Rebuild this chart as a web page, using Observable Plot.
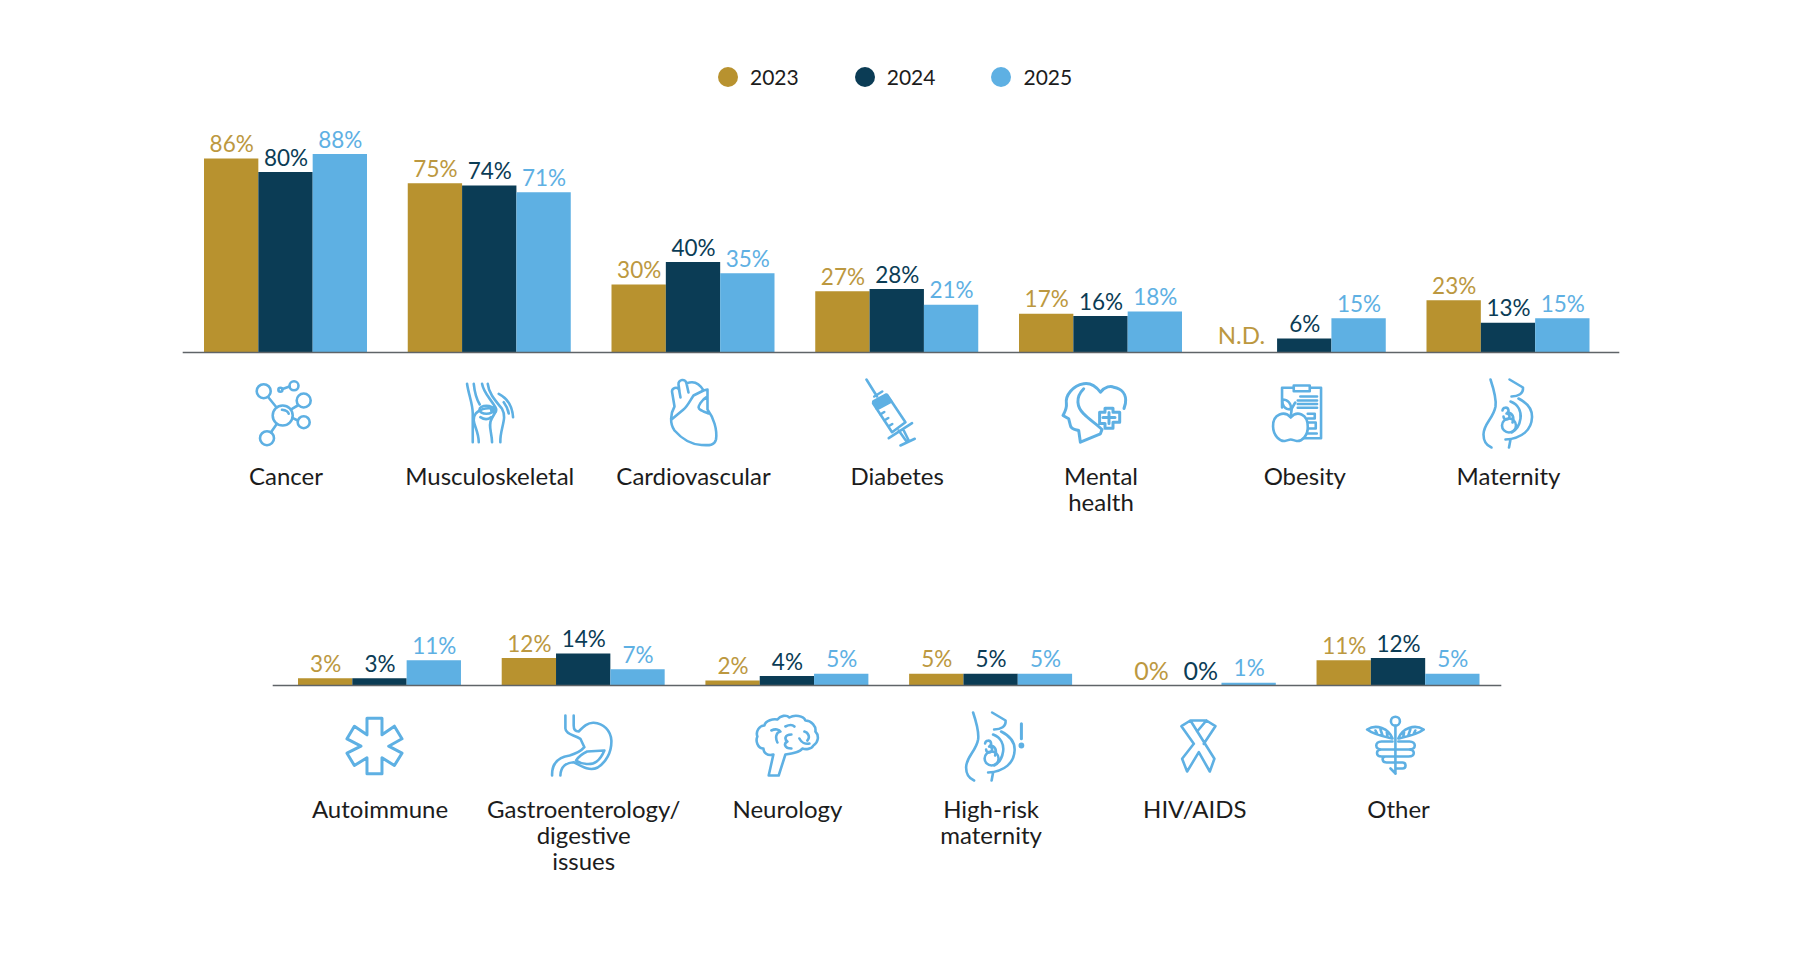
<!DOCTYPE html>
<html>
<head>
<meta charset="utf-8">
<script src="https://cdn.jsdelivr.net/npm/d3@7"></script>
<script src="https://cdn.jsdelivr.net/npm/@observablehq/plot@0.6"></script>
<style>
  html,body{margin:0;padding:0;background:#fff;overflow:hidden;}
  #legend{height:100px;box-sizing:border-box;padding:66px 0 0 718px;display:flex;align-items:flex-start;font:21px/21px Lato,sans-serif;color:#1c1c1c;}
  #legend span.i{display:flex;align-items:center;margin-right:56px;}
  #legend i{display:block;width:20px;height:20px;border-radius:50%;margin-right:12px;}
  svg{display:block;}
</style>
</head>
<body>
<div id="legend"></div>
<div id="chart"></div>
<script>
const years = ["2023","2024","2025"];
const colors = ["#B8922F","#0B3C55","#5EB0E3"];
const textColors = ["#BC9840","#0B3C55","#5EB0E3"];

const topCategories = ["Cancer","Musculoskeletal","Cardiovascular","Diabetes","Mental\nhealth","Obesity","Maternity"];
const top2023 = [86,75,30,27,17,null,23];
const top2024 = [80,74,40,28,16,6,13];
const top2025 = [88,71,35,21,18,15,15];

const bottomCategories = ["Autoimmune","Gastroenterology/\ndigestive\nissues","Neurology","High-risk\nmaternity","HIV/AIDS","Other"];
const bottom2023 = [3,12,2,5,0,11];
const bottom2024 = [3,14,4,5,0,12];
const bottom2025 = [11,7,5,5,1,5];

const pregnant = `<path d="M32,16 C36,28 38,36 37,43 C35,55 25,60 25,71 C25,77 28,82 33,84"/><path d="M51,16 L64.5,24 C65,30 60,33 53,33"/><path d="M60,35 C68,39 74,45 73.5,54 C73,66 64,75 47,76 M52,76 L50.5,84"/><path d="M52,38 C60,41 63,48 62,55 C61,62 57,67 53,69"/><circle cx="50.5" cy="62" r="7"/><path d="M44,47 a3,3 0 1 1 4,3 a3,3 0 1 1 -3,3 M49,49 C54,49 56,54 54,59"/>`;

const iconCancer = `<circle cx="46.7" cy="52" r="10"/><circle cx="27.7" cy="27.7" r="7"/><circle cx="58" cy="22.3" r="4.5"/><circle cx="44.4" cy="26.3" r="2"/><path d="M46.5,25.5 L53.5,23"/><circle cx="67.7" cy="37" r="7"/><circle cx="67.7" cy="58.7" r="6"/><circle cx="31" cy="74.7" r="7"/><path d="M32.7,34.3 L40.4,43.7 M56,45.3 L61.7,42 M57,54.7 L61.7,57 M40.4,61 L35,68.7 M46,46.3 Q52,47 52.7,50.3"/>`;
const iconJoint = `<path d="M27.3,20.3 C29,32 33,40 33,50 L33,78.7 M34,20.3 C35,30 37,36 40,41 M42.3,20.3 C44,30 51,35.3 55.6,43.7 M48,20.3 C49,30 55.6,37 62.3,45.3 C68,55 60,65 60.6,78.7 M39,78.7 C39,65 30,58 36,50 C42,44 50,44 55,46 M52.3,78.7 C52,68 48,62 52,55 L56,48"/><ellipse cx="46.7" cy="46.3" rx="7" ry="4"/><circle cx="54" cy="46.3" r="2.5"/><path d="M40.6,53.7 Q46.6,57.7 51.3,53.7 M59,30.3 Q72.3,37 73.3,53.7 M64,38.7 Q68,44 69,50"/>`;
const iconHeart = `<path d="M31,43 C27,50 26,60 31,67 C38,75 48,81 58,81.5 C66,82 71,82 72.5,76 C74,66 70,54 64,46 L64,26 L60,27 C56,20 50,17 43,20 M31,43 L28.5,28 a3.8,3.8 0 0 1 7,-2 L37,34 M36,28 L35,21 a4,4 0 0 1 8,-1 L45,29 M28,56 L40,46 C44,43 46,38 50,32 L60,27 M64,33 C57,37 55,43 55.2,44 C55,46 58,47 65,50"/>`;
const iconSyringe = `<path d="M19.2,16 L29.8,33 M27,33 L35,28 M25.8,39.7 L39.8,31.3 L58.2,58.7 L44.8,68.7 Z M41.5,74.7 L64.8,59.7 M51.5,67 L59.8,78.7 M56.5,67 L61.5,77 M53.2,82 L67.5,75.3 M29,45 L33,42.5 M33,51 L37,48.5 M37,57 L41,54.5 M41,63 L45,60.5"/><path d="M26,38 L39,31 L44,38 L31,45 Z" fill="#5EB0E3"/>`;
const iconMental = `<path stroke-width="3" d="M29.4,78.7 L27.7,67 C24,66 20,66 19.4,62 L17.7,55.3 L12,52 C14,48 16,45 15.4,40.3 C14,32 22,22 32.7,20.3 C40,19 45,23 49.4,28.7 C54,23 60,22 62.7,23.7 C70,25 76,30 74.4,40 L73,45 M29.4,78.7 L49.4,70.3 L51,66 C45,60 38,56 32.7,50.3 C26,44 24,34 32.7,25.3 M48.6,60 L48.6,48.7 L54,48.7 L54,44.7 L62,44.7 L62,48.7 L68.7,48.7 L68.7,58.7 L62,58.7 L62,64.7 L54,64.7 L54,60 Z M58,49 L58,60 M52,54 L64,54"/>`;
const iconObesity = `<path d="M27.3,44 L27.3,24.3 L66.3,24.3 L66.3,74.7 L45,74.7 M45.6,33 L62.3,33 M43,37 L62.3,37 M43,40.5 L62.3,40.5 M43,44.3 L62.3,44.3 M53,50.3 L60,50.3 L60,55 L53,55 M53,59 L61,59 L61,65 L53,65 M53,70 L62,70" /><rect x="39" y="22" width="16" height="5.7" fill="#fff"/><path fill="#fff" d="M36,54 C30,47 18,50 18.3,63 C18.5,72 25,78 30,77.5 C33,77 34,76 36,76 C38,76 39,77 42,77.5 C47,78 53.5,72 53,63 C53,50 42,47 36,54 Z"/><path d="M36,53 L37,45 L40.5,39 M36,46 C30,46 27,42 27.5,36 C33,36 37,40 36,46"/>`;
const iconMaternity = pregnant;
const iconAutoimmune = `<path stroke-width="3" d="M52,21.7 L52,38.3 L64.4,29.7 L72,42.3 L58.7,49.7 L72,56.7 L64.4,69 L52,61.3 L52,77.3 L37,77.3 L37,61.3 L24.4,69 L17,56.7 L31,49.7 L17,42.3 L24.4,29.7 L37,38.3 L37,21.7 Z"/>`;
const iconStomach = `<path d="M31.7,19 L31.7,32 C32,38 40,38 46.7,42.3 L50.7,50.7 C47,55 43,57 36,59 C28,60 18,64 18.4,79 M40,19 L40,29 C40,33 42,35 45,35 C50,30 54,26 60,26.3 C70,27 77,34 77.7,44 C78,56 72,66 64,71 C56,75 48,70 40,65.7 C33,66 27,70 26.7,79 M70.7,54 L53.4,55 C49,57 45,60 42.4,64 C48,68 58,69 63,65 C67,62 69,58 70.7,54 Z"/>`;
const iconBrain = `<path d="M31.3,79 L36,58 C30,60 26,56 26,52 C20,52 18,44 20,40 C18,35 22,29 27,29 C28,24 36,22 40,23 C43,19 49,18 52,21 C57,18 66,19 68,24 C74,24 79,30 78,35 C82,39 81,46 76,49 C74,53 68,53 65,52 C62,56 55,57 48,58 L41.3,79 Z M34,34 C38,32 42,33 43,35 C38,36 38,42 40,46 M54,38 C47,38 47,43 50,45 C46,47 47,52 54,52 M48,30 C52,28 55,28 57,30 M67,35 C71,36 73,41 70,44 M62,42 C64,46 68,48 72,47"/>`;
const iconHighRisk = pregnant + `<path stroke-width="3" d="M80.3,27.3 L80.3,42.3"/><circle cx="80.3" cy="49" r="1.6" fill="#5EB0E3"/>`;
const iconRibbon = `<path d="M45.6,24 L61.6,24 L70.6,29.7 L59,47.3 M49,47.3 L36.6,29.7 L45.6,24 L69.6,62.3 L65,75 L54,55.7 L42.3,75 L37.3,62.3 L49,47.3 M52.3,35 L61.6,24"/>`;
const iconOther = `<circle cx="46.9" cy="24.7" r="4.5"/><path d="M46.9,29 L46.9,77.3 M44,42 C40,32 28,27 18.6,33 C25,38 35,40 44,42 Z M49.8,42 C53.8,32 65.8,27 75.2,33 C68.8,38 58.8,40 49.8,42 Z M27,34 L29,38 M32,33 L34,39 M38,34 L39,40 M66.8,34 L64.8,38 M61.8,33 L59.8,39 M55.8,34 L54.8,40 M44,45 L33,45 C26,45 26,53 33,53 L60,53 C67,53 67,60 60,60 L37,60 C33,60 33,66 38,66 L54,66 C58,66 58,72 54,72 L47,72 M49.8,45 L61,45 C68,45 68,53 61,53 M33,53 C27,53 27,60 33,60 L37,60 M42,72 L47,77"/>`;

const topIcons = [iconCancer,iconJoint,iconHeart,iconSyringe,iconMental,iconObesity,iconMaternity];
const bottomIcons = [iconAutoimmune,iconStomach,iconBrain,iconHighRisk,iconRibbon,iconOther];

function iconUrl(body){
  const svg = `<svg xmlns="http://www.w3.org/2000/svg" viewBox="0 0 100 100" width="100" height="100" fill="none" stroke="#5EB0E3" stroke-width="2.6" stroke-linecap="round" stroke-linejoin="round">${body}</svg>`;
  return "data:image/svg+xml;charset=utf-8," + encodeURIComponent(svg);
}

const legend = document.getElementById("legend");
years.forEach((y,i)=>{
  const s = document.createElement("span"); s.className="i";
  const c = document.createElement("i"); c.style.background = colors[i];
  s.append(c, y); legend.append(s);
});

function row({categories, series, icons, height, baseline, top, fxRange, yMax, insetLeft, insetRight}){
  const table = [];
  categories.forEach((category,i)=>years.forEach((year,j)=>{
    table.push({category, year, value: series[j][i]});
  }));
  const iconRows = categories.map((category,i)=>({category, src: iconUrl(icons[i])}));
  const font = {fontFamily:"Lato, sans-serif"};
  const regular = table.filter(d=>d.value);
  return Plot.plot({
    width:1800, height,
    marginTop:top, marginBottom:height-baseline, marginLeft:fxRange[0], marginRight:1800-fxRange[1],
    style:{background:"#fff", overflow:"visible"},
    fx:{domain:categories, paddingInner:0.2, paddingOuter:0, range:fxRange, round:false, axis:null},
    x:{domain:years, padding:0, round:false, axis:null},
    y:{domain:[0,yMax], axis:null},
    color:{domain:years, range:colors},
    marks:[
      Plot.barY(table.filter(d=>d.value!==null),{fx:"category",x:"year",y:"value",fill:"year"}),
      Plot.frame({anchor:"bottom",facet:"super",stroke:"#5f6468",strokeWidth:1.6,insetLeft,insetRight}),
      Plot.text(regular,{fx:"category",x:"year",y:"value",text:d=>d.value+"%",fill:d=>textColors[years.indexOf(d.year)],fontSize:22.5,dy:-14,...font}),
      Plot.text(table.filter(d=>d.value===0&&d.year==="2023"),{fx:"category",x:"year",y:"value",text:d=>d.value+"%",fill:textColors[0],fontSize:25,dy:-14,dx:11,...font}),
      Plot.text(table.filter(d=>d.value===0&&d.year==="2024"),{fx:"category",x:"year",y:"value",text:d=>d.value+"%",fill:textColors[1],fontSize:25,dy:-14,dx:6,...font}),
      Plot.text(table.filter(d=>d.value===null),{fx:"category",x:"year",y:()=>0,text:()=>"N.D.",fill:textColors[0],fontSize:24,dy:-16,dx:-9,...font}),
      Plot.image(iconRows,{fx:"category",x:()=>years[1],y:()=>0,src:"src",width:100,height:100,dy:61}),
      Plot.axisFx({anchor:"bottom",label:null,tickSize:0,tickPadding:114,fontSize:24,lineHeight:1.08,fill:"#1c1c1c",...font})
    ]
  });
}

const chart = document.getElementById("chart");
chart.append(row({
  categories:topCategories, series:[top2023,top2024,top2025], icons:topIcons,
  height:480, baseline:252, top:27,
  fxRange:[204,1589.5], yMax:100, insetLeft:-21, insetRight:-28.5
}));
chart.append(row({
  categories:bottomCategories, series:[bottom2023,bottom2024,bottom2025], icons:bottomIcons,
  height:374, baseline:105, top:10.5,
  fxRange:[298,1479.5], yMax:42, insetLeft:-25, insetRight:-20.5
}));
</script>
</body>
</html>
